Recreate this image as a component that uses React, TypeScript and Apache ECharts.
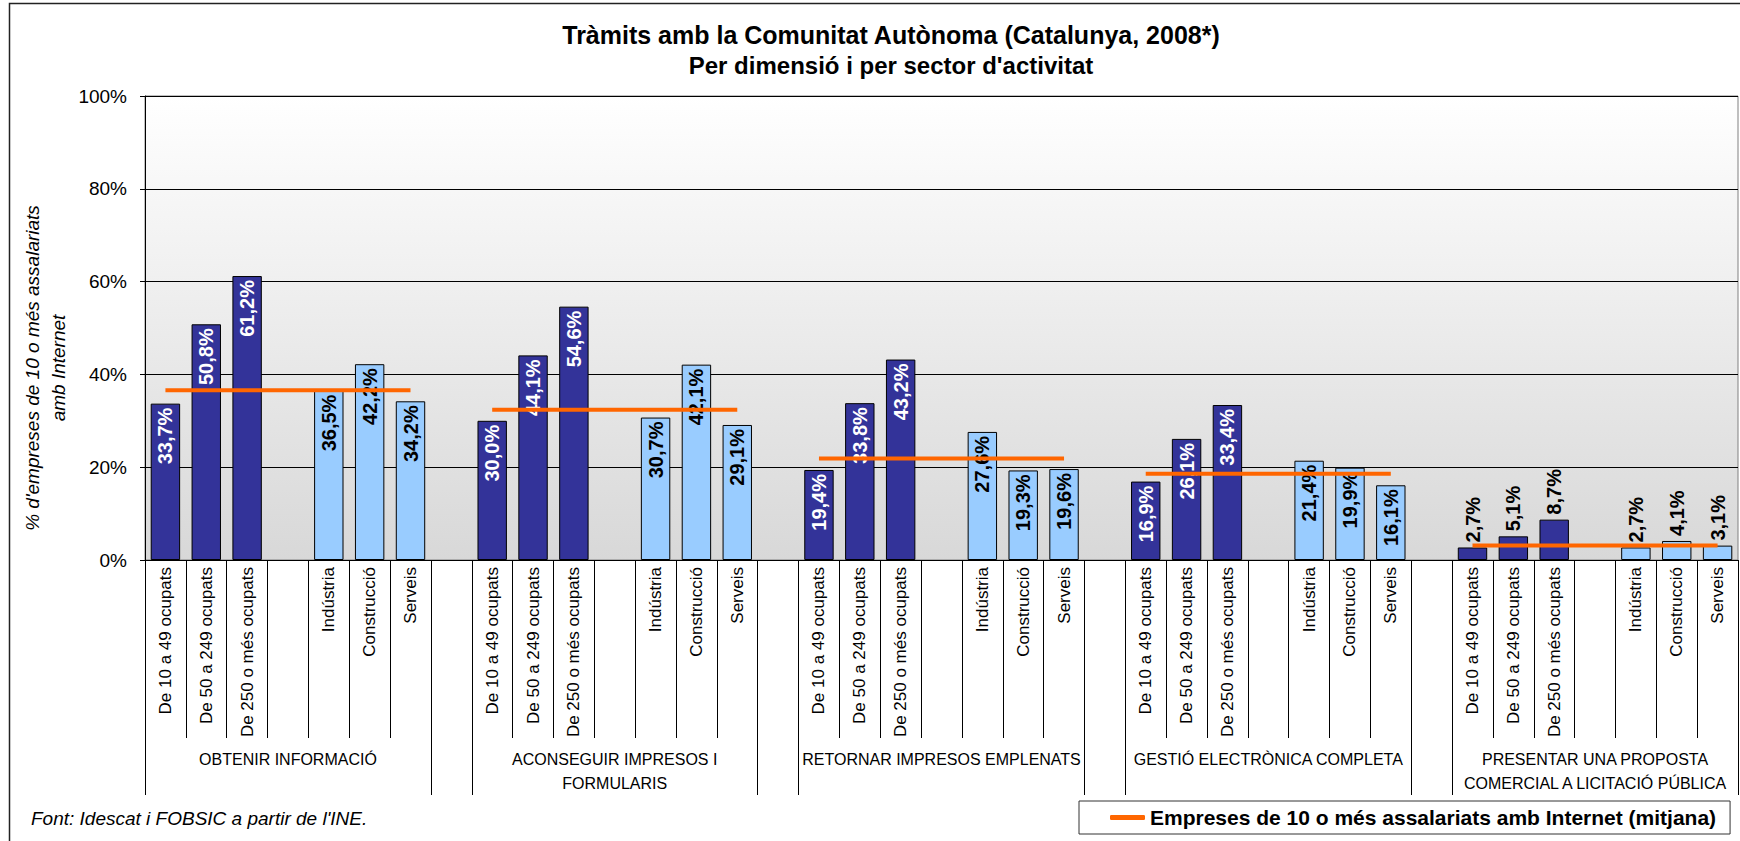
import React, { useEffect, useRef } from "react";
import * as echarts from "echarts";

const sizeNames = ["De 10 a 49 ocupats", "De 50 a 249 ocupats", "De 250 o més ocupats"];
const sectorNames = ["Indústria", "Construcció", "Serveis"];
const groupNames = [
  "OBTENIR INFORMACIÓ",
  "ACONSEGUIR IMPRESOS I\nFORMULARIS",
  "RETORNAR IMPRESOS EMPLENATS",
  "GESTIÓ ELECTRÒNICA COMPLETA",
  "PRESENTAR UNA PROPOSTA\nCOMERCIAL A LICITACIÓ PÚBLICA",
];
const sizeValues = [
  [33.7, 50.8, 61.2],
  [30.0, 44.1, 54.6],
  [19.4, 33.8, 43.2],
  [16.9, 26.1, 33.4],
  [2.7, 5.1, 8.7],
];
const sectorValues = [
  [36.5, 42.2, 34.2],
  [30.7, 42.1, 29.1],
  [27.6, 19.3, 19.6],
  [21.4, 19.9, 16.1],
  [2.7, 4.1, 3.1],
];
const averages = [36.6, 32.4, 21.9, 18.6, 3.1];
const yTicks = [0, 20, 40, 60, 80, 100];

const TITLE1 = "Tràmits amb la Comunitat Autònoma (Catalunya, 2008*)";
const TITLE2 = "Per dimensió i per sector d'activitat";
const Y_NAME = "% d'empreses de 10 o més assalariats\namb Internet";
const SOURCE = "Font: Idescat i FOBSIC a partir de l'INE.";
const LEGEND_NAME = "Empreses de 10 o més assalariats amb Internet (mitjana)";

const FONT = "'Liberation Sans', Arial, sans-serif";
const DARK = "#333399";
const LIGHT = "#99CCFF";
const ORANGE = "#FF6600";

function fmt(v: number) {
  return v.toFixed(1).replace(".", ",") + "%";
}

function labelFor(v: number, dark: boolean) {
  if (v < 10) {
    return {
      show: true,
      position: "top",
      rotate: 90,
      align: "left",
      verticalAlign: "middle",
      distance: 5,
      color: "#000",
    };
  }
  return {
    show: true,
    position: "insideTop",
    rotate: 90,
    align: "right",
    verticalAlign: "middle",
    distance: 4,
    color: dark ? "#fff" : "#000",
  };
}

export default function App() {
  const ref = useRef<HTMLDivElement>(null);

  useEffect(() => {
    if (!ref.current) return;
    const chart = echarts.init(ref.current, null, { renderer: "svg" });

    const cats: string[] = [];
    const groupCats: string[] = [];
    const darkData: any[] = [];
    const lightData: any[] = [];
    const avgData: any[] = [];
    groupNames.forEach((g, gi) => {
      const slots = [...sizeNames, "", ...sectorNames];
      slots.forEach((s, si) => {
        cats.push(s);
        groupCats.push(si === 3 ? g : "");
        if (si < 3) {
          const v = sizeValues[gi][si];
          darkData.push({ value: v, label: labelFor(v, true) });
          lightData.push("-");
        } else if (si > 3) {
          const v = sectorValues[gi][si - 4];
          lightData.push({ value: v, label: labelFor(v, false) });
          darkData.push("-");
        } else {
          darkData.push("-");
          lightData.push("-");
        }
        avgData.push(averages[gi]);
      });
      if (gi < groupNames.length - 1) {
        cats.push("");
        groupCats.push("");
        darkData.push("-");
        lightData.push("-");
        avgData.push("-");
      }
    });

    const labelCommon = {
      fontFamily: FONT,
      fontSize: 20,
      fontWeight: "bold",
      formatter: (p: any) => fmt(p.value),
    };

    chart.setOption({
      animation: false,
      backgroundColor: "#fff",
      textStyle: { fontFamily: FONT },
      grid: {
        left: 145,
        right: 2,
        top: 96,
        bottom: 281,
        show: true,
        borderColor: "#808080",
        borderWidth: 1,
        backgroundColor: new echarts.graphic.LinearGradient(0, 0, 0, 1, [
          { offset: 0, color: "#FFFFFF" },
          { offset: 1, color: "#D8D8D8" },
        ]),
      },
      legend: {
        left: 1079,
        top: 801,
        padding: [6, 14, 6, 31],
        borderColor: "#333",
        borderWidth: 1,
        icon: "roundRect",
        itemWidth: 35,
        itemHeight: 5,
        data: [LEGEND_NAME],
        textStyle: { fontFamily: FONT, fontSize: 21, fontWeight: "bold", color: "#000" },
      },
      xAxis: [
        {
          type: "category",
          data: cats,
          position: "bottom",
          axisLine: { show: true, lineStyle: { color: "#000", width: 1 } },
          axisTick: { show: true, interval: 0, length: 178, lineStyle: { color: "#000" } },
          axisLabel: {
            interval: 0,
            rotate: 90,
            margin: 7,
            fontSize: 17,
            fontFamily: FONT,
            color: "#000",
          },
          splitLine: { show: false },
        },
        {
          type: "category",
          data: groupCats,
          position: "bottom",
          axisLine: { show: false },
          axisTick: {
            show: true,
            interval: (i: number) => i % 8 === 0 || i % 8 === 7,
            length: 235,
            lineStyle: { color: "#000" },
          },
          axisLabel: {
            interval: (i: number) => i % 8 === 3,
            margin: 187,
            fontSize: 16,
            lineHeight: 24,
            fontFamily: FONT,
            color: "#000",
            verticalAlign: "top",
          },
          splitLine: { show: false },
        },
      ],
      yAxis: {
        type: "value",
        min: yTicks[0],
        max: yTicks[yTicks.length - 1],
        interval: 20,
        axisLine: { show: true, lineStyle: { color: "#000" } },
        axisTick: { show: true, length: 5, lineStyle: { color: "#000" } },
        axisLabel: {
          formatter: "{value}%",
          margin: 18,
          fontSize: 19,
          fontFamily: FONT,
          color: "#000",
        },
        splitLine: { show: true, lineStyle: { color: "#000", width: 1 } },
      },
      series: [
        {
          name: "size",
          type: "bar",
          stack: "s",
          xAxisIndex: 0,
          data: darkData,
          barCategoryGap: "28%",
          itemStyle: { color: DARK, borderColor: "#000", borderWidth: 1 },
          label: labelCommon,
        },
        {
          name: "sector",
          type: "bar",
          stack: "s",
          xAxisIndex: 0,
          data: lightData,
          barCategoryGap: "28%",
          itemStyle: { color: LIGHT, borderColor: "#000", borderWidth: 1 },
          label: labelCommon,
        },
        {
          name: LEGEND_NAME,
          type: "line",
          xAxisIndex: 0,
          data: avgData,
          connectNulls: false,
          symbol: "none",
          showSymbol: false,
          lineStyle: { color: ORANGE, width: 4 },
          itemStyle: { color: ORANGE },
          z: 5,
        },
      ],
      graphic: [
        {
          type: "rect",
          shape: { x: 9.5, y: 3.5, width: 1800, height: 900 },
          style: { fill: "none", stroke: "#222", lineWidth: 1.5 },
          silent: true,
          z: -10,
        },
        {
          type: "text",
          x: 891,
          y: 35,
          style: {
            text: TITLE1,
            font: `bold 25px ${FONT}`,
            textAlign: "center",
            textVerticalAlign: "middle",
            fill: "#000",
          },
        },
        {
          type: "text",
          x: 891,
          y: 65,
          style: {
            text: TITLE2,
            font: `bold 24px ${FONT}`,
            textAlign: "center",
            textVerticalAlign: "middle",
            fill: "#000",
          },
        },
        {
          type: "text",
          x: 45,
          y: 368,
          rotation: Math.PI / 2,
          style: {
            text: Y_NAME,
            font: `italic 19px ${FONT}`,
            lineHeight: 26,
            textAlign: "center",
            textVerticalAlign: "middle",
            fill: "#000",
          },
        },
        {
          type: "text",
          x: 31,
          y: 818,
          style: {
            text: SOURCE,
            font: `italic 19px ${FONT}`,
            textAlign: "left",
            textVerticalAlign: "middle",
            fill: "#000",
          },
        },
      ],
    });

    return () => chart.dispose();
  }, []);

  return (
    <div
      ref={ref}
      style={{ position: "fixed", left: 0, top: 0, width: 1740, height: 841, background: "#fff" }}
    />
  );
}
